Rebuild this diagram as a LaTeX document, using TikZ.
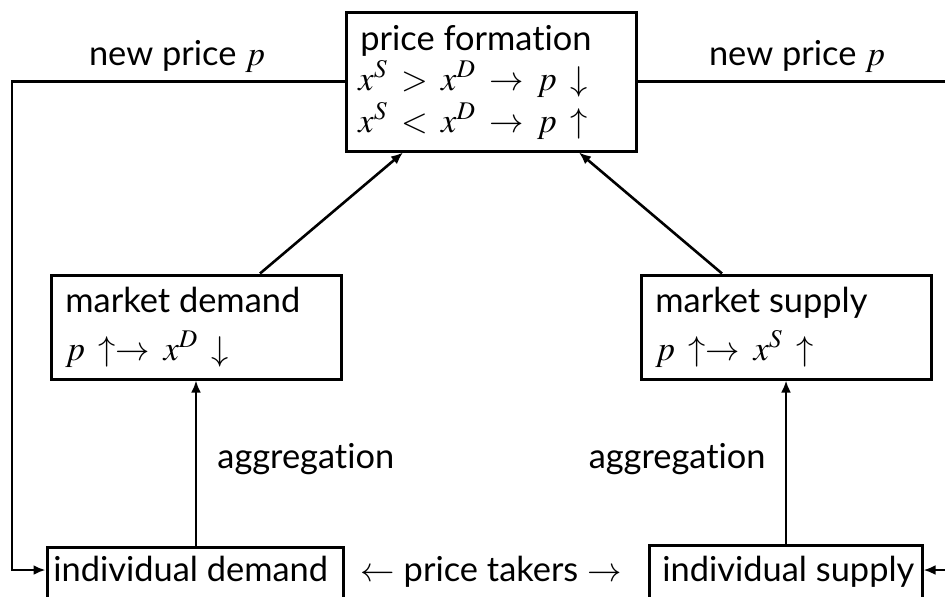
\documentclass[tikz,border=0pt]{standalone}
\usepackage{mathptmx}
\usepackage[no-math]{fontspec}
\setmainfont{Lato}[Ligatures=NoCommon]
\usetikzlibrary{arrows.meta}
\thickmuskip=7mu plus 2mu
\begin{document}
\begin{tikzpicture}[x=0.5pt,y=-0.5pt,
  box/.style={draw, line width=1.5pt, inner sep=0pt, rectangle},
  txt/.style={inner sep=0pt, font=\fontsize{17.2}{20}\selectfont},
  lbl/.style={txt, anchor=base west},
  rlbl/.style={txt, anchor=base east},
  clbl/.style={txt, anchor=base},
  conn/.style={line width=1.3pt, -{Latex[length=6pt,width=5pt]}},
]
\useasboundingbox (0,0) rectangle (945,596);
\clip (0,0) rectangle (945,596);

% boxes
\node[box, minimum width=145pt, minimum height=69.5pt] (pf) at (491,81.5) {};
\node[box, minimum width=145pt, minimum height=52pt] (mdem) at (196,327) {};
\node[box, minimum width=145pt, minimum height=52pt] (msup) at (786,327) {};
\node[box, minimum width=148pt, minimum height=35pt] (indem) at (195,582) {};
\node[box, minimum width=136.5pt, minimum height=35pt] (insup) at (785.5,580) {};

% box contents
\node[lbl] (pft1) at (360,50) {price formation};
\node[lbl] (pft2) at (358,90) {$x^S > x^D \rightarrow p \downarrow$};
\node[lbl] (pft3) at (358,132) {$x^S < x^D \rightarrow p \uparrow$};
\node[lbl] (mdt1) at (65,312) {market demand};
\node[lbl] (mdt2) at (65,360) {$p \uparrow\rightarrow x^D \downarrow$};
\node[lbl] (mst1) at (655,312) {market supply};
\node[lbl] (mst2) at (655,360) {$p \uparrow\rightarrow x^S \uparrow$};
\node[lbl] (idt) at (53,581) {individual demand};
\node[lbl] (ist) at (662,581) {individual supply};

% labels
\node[clbl] (npl) at (177,65) {new price $p$};
\node[clbl] (npr) at (797,65) {new price $p$};
\node[lbl] (agl) at (217,468) {aggregation};
\node[rlbl] (agr) at (766,468) {aggregation};
\node[clbl] (pt) at (491,581) {$\leftarrow$ price takers $\rightarrow$};

% feedback loops
\coordinate (lc) at (12,570);
\coordinate (rc) at (960,570);
\draw[conn] (pf.west) -| (lc) -- (lc -| indem.west);
\draw[conn] (pf.east) -| (rc) -- (rc -| insup.east);

% aggregation arrows
\draw[conn] (mdem.south |- indem.north) -- (mdem.south);
\draw[conn] (msup.south |- insup.north) -- (msup.south);

% market to price formation
\draw[conn] ([xshift=32pt]mdem.north) -- ([xshift=-44pt]pf.south);
\draw[conn] ([xshift=-32pt]msup.north) -- ([xshift=44pt]pf.south);
\end{tikzpicture}
\end{document}
